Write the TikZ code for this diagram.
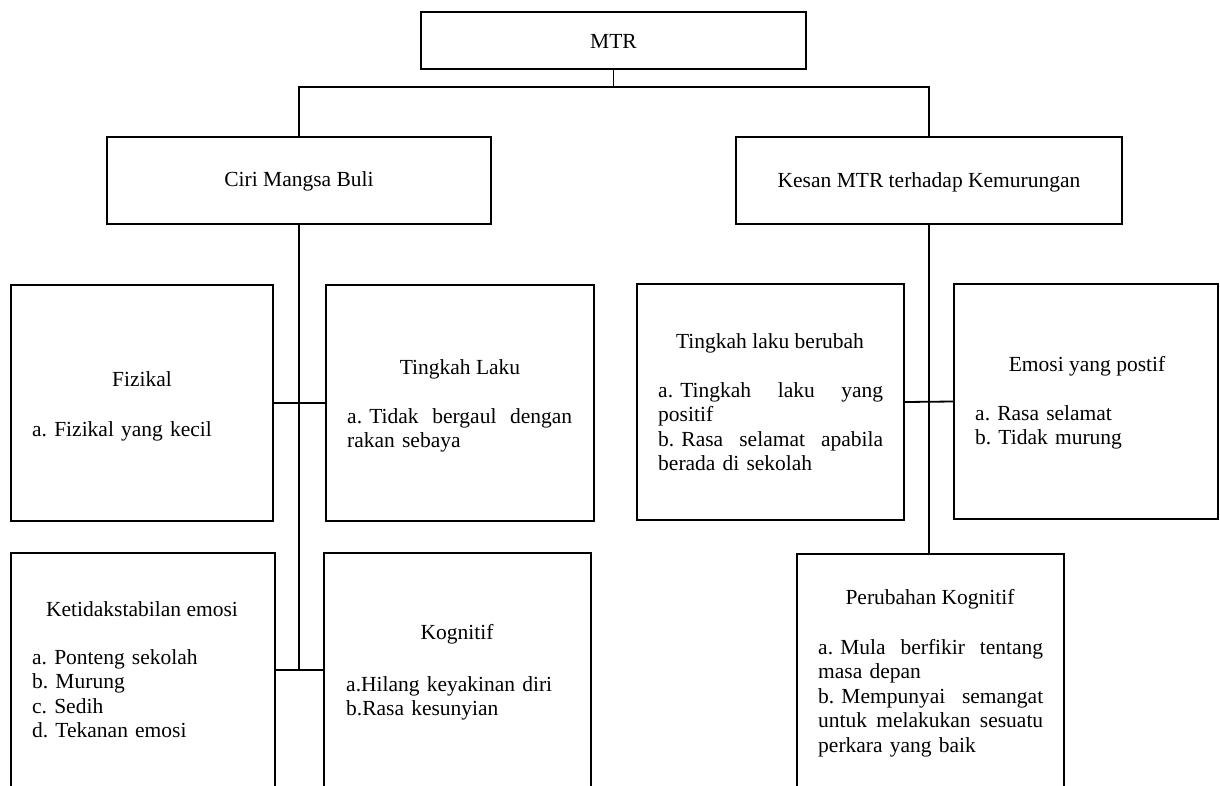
\documentclass[tikz,border=0pt]{standalone}
\usepackage{fontspec}
\setmainfont{Liberation Serif}
\frenchspacing
\begin{document}
\begin{tikzpicture}[x=1pt,y=-1pt,
  box/.style={draw, line width=1.8pt, inner sep=0pt},
  conn/.style={line width=1.8pt},
  title/.style={inner sep=0pt, anchor=base, font=\fontsize{21.5}{24.6}\selectfont\frenchspacing},
  items/.style={inner sep=0pt, anchor=base west, align=left, text width=#1, font=\fontsize{21.5}{24.6}\selectfont\frenchspacing},
  items/.default=260pt]
\useasboundingbox (0,0) rectangle (1220,785);
\clip (0,0) rectangle (1220,785);
% boxes
\node[box, minimum width=385pt, minimum height=57pt] (mtr) at (613.5,40.5) {};
\node[box, minimum width=384pt, minimum height=87pt] (ciri) at (299,180.5) {};
\node[box, minimum width=386pt, minimum height=87pt] (kesan) at (929,180.5) {};
\node[box, minimum width=262pt, minimum height=236pt] (fiz) at (142,403) {};
\node[box, minimum width=268pt, minimum height=236pt] (tl) at (460,403) {};
\node[box, minimum width=264pt, minimum height=247pt] (ket) at (143,676.5) {};
\node[box, minimum width=267pt, minimum height=247pt] (kog) at (457.5,676.5) {};
\node[box, minimum width=267pt, minimum height=236pt] (tlb) at (770.5,402) {};
\node[box, minimum width=264pt, minimum height=235pt] (emo) at (1086,401.5) {};
\node[box, minimum width=267pt, minimum height=246pt] (per) at (930.5,677) {};
% connectors
\coordinate (j1) at (613.5,87);
\coordinate (c1) at (299,670);
\draw[conn] (mtr.south) -- (j1);
\draw[conn] (ciri.north) |- (j1) -| (kesan.north);
\draw[conn] (ciri.south) -- (c1);
\draw[conn] (fiz.east) -- (tl.west);
\draw[conn] (ket.east |- c1) -- (kog.west |- c1);
\draw[conn] (kesan.south) -- (kesan.south |- per.north);
\draw[conn] (tlb.east) -- (emo.west);
% titles
\node[title] (tmtr) at (613.5,48) {MTR};
\node[title] (tciri) at (299,186) {Ciri Mangsa Buli};
\node[title] (tkesan) at (929,187) {Kesan MTR terhadap Kemurungan};
\node[title] (tfiz) at (142,386) {Fizikal};
\node[title] (ttl) at (460,374) {Tingkah Laku};
\node[title] (tket) at (142,616) {Ketidakstabilan emosi};
\node[title] (tkog) at (457,639) {Kognitif};
\node[title] (ttlb) at (770,348) {Tingkah laku berubah};
\node[title] (temo) at (1087,371) {Emosi yang postif};
\node[title] (tper) at (930,604) {Perubahan Kognitif};
% items
\node[items] (ifiz) at (32,436) {a. Fizikal yang kecil};
\node[items=225pt] (itl) at (347,423) {a.~Tidak\hfill bergaul\hfill dengan\\rakan sebaya};
\node[items] (iket) at (32,664) {a. Ponteng sekolah\\b. Murung\\c. Sedih\\d. Tekanan emosi};
\node[items] (ikog) at (346,691) {a.Hilang keyakinan diri\\b.Rasa kesunyian};
\node[items=225pt] (itlb) at (658,397) {a.~Tingkah\hfill laku\hfill yang\\positif\\b.~Rasa\hfill selamat\hfill apabila\\berada di sekolah};
\node[items] (iemo) at (975,420) {a. Rasa selamat\\b. Tidak murung};
\node[items=225pt] (iper) at (818,654) {a.~Mula\hfill berfikir\hfill tentang\\masa depan\\b.~Mempunyai\hfill semangat\\untuk\hfill melakukan\hfill sesuatu\\perkara yang baik};
\end{tikzpicture}
\end{document}
